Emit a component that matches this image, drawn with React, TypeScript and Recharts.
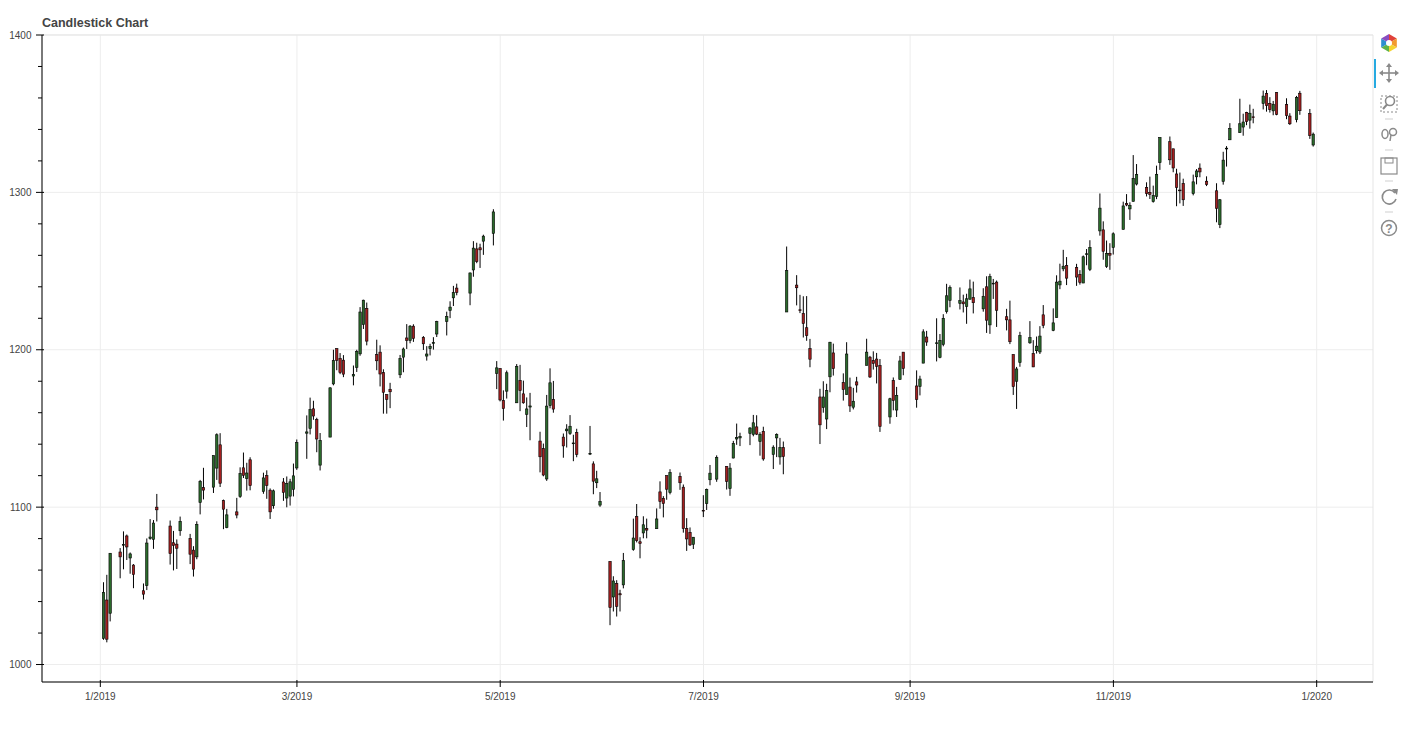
import React from 'react';
import { ComposedChart, Bar, XAxis, YAxis, CartesianGrid, ReferenceArea } from 'recharts';

// ---------- data ----------
const dates = [
  // Jan
  '2019-01-02','2019-01-03','2019-01-04','2019-01-07','2019-01-08','2019-01-09','2019-01-10','2019-01-11','2019-01-14','2019-01-15','2019-01-16','2019-01-17','2019-01-18','2019-01-22','2019-01-23','2019-01-24','2019-01-25','2019-01-28','2019-01-29','2019-01-30','2019-01-31',
  // Feb
  '2019-02-01','2019-02-04','2019-02-05','2019-02-06','2019-02-07','2019-02-08','2019-02-11','2019-02-12','2019-02-13','2019-02-14','2019-02-15','2019-02-19','2019-02-20','2019-02-21','2019-02-22','2019-02-25','2019-02-26','2019-02-27','2019-02-28',
  // Mar
  '2019-03-01','2019-03-04','2019-03-05','2019-03-06','2019-03-07','2019-03-08','2019-03-11','2019-03-12','2019-03-13','2019-03-14','2019-03-15','2019-03-18','2019-03-19','2019-03-20','2019-03-21','2019-03-22','2019-03-25','2019-03-26','2019-03-27','2019-03-28','2019-03-29',
  // Apr
  '2019-04-01','2019-04-02','2019-04-03','2019-04-04','2019-04-05','2019-04-08','2019-04-09','2019-04-10','2019-04-11','2019-04-12','2019-04-15','2019-04-16','2019-04-17','2019-04-18','2019-04-22','2019-04-23','2019-04-24','2019-04-25','2019-04-26','2019-04-29','2019-04-30',
  // May
  '2019-05-01','2019-05-02','2019-05-03','2019-05-06','2019-05-07','2019-05-08','2019-05-09','2019-05-10','2019-05-13','2019-05-14','2019-05-15','2019-05-16','2019-05-17','2019-05-20','2019-05-21','2019-05-22','2019-05-23','2019-05-24','2019-05-28','2019-05-29','2019-05-30','2019-05-31',
  // Jun
  '2019-06-03','2019-06-04','2019-06-05','2019-06-06','2019-06-07','2019-06-10','2019-06-11','2019-06-12','2019-06-13','2019-06-14','2019-06-17','2019-06-18','2019-06-19','2019-06-20','2019-06-21','2019-06-24','2019-06-25','2019-06-26','2019-06-27','2019-06-28',
  // Jul
  '2019-07-01','2019-07-02','2019-07-03','2019-07-05','2019-07-08','2019-07-09','2019-07-10','2019-07-11','2019-07-12','2019-07-15','2019-07-16','2019-07-17','2019-07-18','2019-07-19','2019-07-22','2019-07-23','2019-07-24','2019-07-25','2019-07-26','2019-07-29','2019-07-30','2019-07-31',
  // Aug
  '2019-08-01','2019-08-02','2019-08-05','2019-08-06','2019-08-07','2019-08-08','2019-08-09','2019-08-12','2019-08-13','2019-08-14','2019-08-15','2019-08-16','2019-08-19','2019-08-20','2019-08-21','2019-08-22','2019-08-23','2019-08-26','2019-08-27','2019-08-28','2019-08-29','2019-08-30',
  // Sep
  '2019-09-03','2019-09-04','2019-09-05','2019-09-06','2019-09-09','2019-09-10','2019-09-11','2019-09-12','2019-09-13','2019-09-16','2019-09-17','2019-09-18','2019-09-19','2019-09-20','2019-09-23','2019-09-24','2019-09-25','2019-09-26','2019-09-27','2019-09-30',
  // Oct
  '2019-10-01','2019-10-02','2019-10-03','2019-10-04','2019-10-07','2019-10-08','2019-10-09','2019-10-10','2019-10-11','2019-10-14','2019-10-15','2019-10-16','2019-10-17','2019-10-18','2019-10-21','2019-10-22','2019-10-23','2019-10-24','2019-10-25','2019-10-28','2019-10-29','2019-10-30','2019-10-31',
  // Nov
  '2019-11-01','2019-11-04','2019-11-05','2019-11-06','2019-11-07','2019-11-08','2019-11-11','2019-11-12','2019-11-13','2019-11-14','2019-11-15','2019-11-18','2019-11-19','2019-11-20','2019-11-21','2019-11-22','2019-11-25','2019-11-26','2019-11-27','2019-11-29',
  // Dec
  '2019-12-02','2019-12-03','2019-12-04','2019-12-05','2019-12-06','2019-12-09','2019-12-10','2019-12-11','2019-12-12','2019-12-13','2019-12-16','2019-12-17','2019-12-18','2019-12-19','2019-12-20','2019-12-23','2019-12-24','2019-12-26','2019-12-27','2019-12-30','2019-12-31',
];

const opens = [
  1016.6,1041.0,1032.6,1071.5,1076.1,1081.7,1067.7,1063.2,1046.9,1050.2,1080.0,1079.5,1100.0,1088.0,1077.4,1076.5,1085.0,1080.1,1072.7,1068.4,1103.0,
  1112.4,1112.7,1124.8,1139.6,1104.2,1087.0,1097.0,1106.8,1125.0,1118.1,1130.1,1110.0,1120.0,1110.8,1100.9,1116.0,1105.8,1107.0,1111.3,
  1124.9,1147.0,1150.1,1162.5,1155.7,1126.7,1144.5,1178.3,1200.7,1194.5,1193.4,1183.3,1188.8,1197.4,1216.0,1226.3,1196.9,1198.5,1185.5,1171.5,1174.9,
  1184.1,1195.3,1207.5,1205.9,1215.0,1207.9,1196.0,1200.7,1204.0,1210.0,1218.0,1225.0,1233.0,1239.2,1236.0,1250.7,1264.1,1264.8,1269.0,1274.0,1185.0,
  1188.1,1167.8,1173.7,1166.3,1180.5,1172.0,1159.0,1163.6,1142.0,1137.2,1117.9,1164.5,1168.5,1144.5,1148.5,1146.8,1140.5,1147.4,1134.0,1127.5,1115.5,1101.3,
  1065.5,1042.9,1051.5,1045.0,1050.6,1073.0,1094.0,1078.0,1083.6,1086.4,1086.3,1109.7,1105.6,1120.0,1109.2,1119.6,1112.7,1086.5,1084.0,1076.4,
  1098.0,1102.2,1117.4,1117.8,1125.9,1111.8,1131.2,1143.3,1144.0,1146.9,1146.2,1151.0,1141.7,1148.2,1133.5,1144.0,1131.9,1137.8,1224.0,1241.1,1225.4,1223.0,
  1214.0,1200.7,1170.0,1163.3,1156.0,1182.8,1198.0,1179.2,1171.5,1176.3,1163.5,1179.6,1190.1,1195.3,1193.2,1194.1,1190.0,1157.3,1180.5,1161.7,1181.1,1198.5,
  1177.0,1176.7,1191.5,1208.1,1204.0,1195.2,1203.4,1224.3,1231.4,1229.5,1230.4,1227.5,1232.1,1233.1,1226.0,1240.0,1215.8,1242.0,1243.0,1221.0,
  1219.0,1197.0,1180.0,1191.9,1204.4,1197.6,1199.4,1198.6,1222.2,1212.3,1220.4,1241.2,1251.4,1253.5,1252.3,1247.9,1242.4,1260.9,1251.0,1275.5,1276.2,1253.0,1261.3,
  1265.0,1276.5,1292.9,1289.5,1294.3,1305.3,1303.2,1300.0,1294.1,1297.5,1318.9,1332.2,1327.7,1311.7,1301.5,1305.6,1299.2,1309.9,1315.4,1307.1,
  1301.0,1279.6,1307.0,1328.0,1333.4,1338.0,1341.5,1350.8,1345.9,1348.0,1356.5,1362.9,1356.6,1351.8,1363.4,1355.9,1348.5,1346.2,1363.0,1350.0,1330.1,
];

const highs = [
  1052.3,1057.0,1070.8,1074.0,1084.6,1082.6,1071.2,1063.8,1051.5,1080.1,1092.4,1091.8,1108.4,1091.5,1084.9,1079.5,1094.0,1083.0,1075.2,1091.0,1117.3,
  1125.0,1132.8,1146.9,1147.0,1104.8,1098.9,1105.9,1125.3,1134.7,1128.2,1131.7,1121.9,1123.4,1111.9,1111.2,1118.5,1119.5,1118.0,1127.7,
  1143.0,1158.3,1169.6,1167.6,1156.8,1147.1,1176.2,1200.0,1200.9,1197.9,1196.6,1190.0,1200.0,1227.1,1231.8,1230.0,1206.4,1202.8,1187.6,1171.6,1179.0,
  1196.7,1201.4,1216.3,1215.7,1216.2,1208.7,1202.3,1203.8,1208.0,1218.4,1224.2,1230.8,1240.6,1242.0,1249.1,1269.0,1268.0,1267.4,1273.1,1289.3,1192.8,
  1188.1,1174.2,1186.8,1190.9,1190.4,1180.4,1169.7,1172.6,1147.9,1140.4,1171.3,1188.2,1180.2,1146.8,1152.7,1158.5,1146.0,1149.8,1151.6,1129.1,1123.1,1109.6,
  1065.5,1056.1,1053.6,1047.5,1070.9,1092.7,1102.0,1080.9,1094.2,1092.7,1099.2,1116.4,1107.0,1120.1,1124.1,1122.0,1114.4,1093.0,1087.1,1081.0,
  1107.6,1111.8,1126.8,1132.9,1126.0,1128.0,1142.1,1153.1,1147.3,1150.8,1158.6,1158.4,1147.6,1151.1,1139.3,1146.9,1144.0,1141.7,1265.6,1247.4,1234.9,1234.0,
  1234.1,1206.9,1175.2,1180.0,1178.4,1205.0,1203.9,1185.0,1204.8,1182.3,1175.8,1182.8,1207.0,1196.1,1199.0,1198.0,1194.1,1169.5,1182.4,1176.4,1196.1,1198.5,
  1186.9,1183.5,1213.0,1212.0,1220.0,1210.0,1222.6,1241.9,1240.9,1239.6,1235.0,1235.6,1244.6,1243.3,1239.1,1246.7,1248.3,1245.0,1244.0,1226.0,
  1231.2,1197.0,1189.1,1211.4,1218.2,1206.1,1208.4,1215.0,1228.4,1226.3,1247.3,1254.7,1263.5,1258.9,1254.6,1250.6,1259.9,1264.0,1269.6,1299.3,1281.6,1269.4,1267.7,
  1274.6,1294.1,1298.9,1293.7,1323.7,1318.0,1306.4,1310.0,1304.3,1317.0,1334.9,1335.5,1327.7,1315.0,1312.6,1308.7,1311.3,1314.8,1318.4,1310.2,
  1305.8,1295.8,1325.8,1329.4,1344.0,1359.5,1350.0,1351.2,1355.8,1353.1,1364.7,1365.0,1360.5,1358.1,1363.6,1359.8,1350.3,1361.3,1364.5,1353.0,1338.0,
];

const lows = [
  1015.7,1014.1,1027.4,1054.8,1060.5,1066.4,1057.7,1048.5,1041.3,1047.3,1079.3,1073.5,1090.9,1063.5,1059.8,1060.7,1081.8,1063.8,1055.9,1066.9,1095.4,
  1104.9,1109.0,1117.3,1112.8,1086.0,1086.6,1092.9,1105.9,1118.5,1110.5,1110.7,1108.5,1105.3,1092.5,1099.0,1104.0,1099.9,1101.0,1106.8,
  1123.7,1130.7,1146.2,1155.5,1134.9,1123.3,1144.5,1177.4,1187.0,1184.5,1182.6,1177.4,1185.9,1196.2,1213.2,1202.8,1187.0,1176.7,1159.4,1159.4,1162.9,
  1182.0,1185.7,1200.5,1204.1,1205.0,1199.9,1193.1,1196.4,1200.1,1208.1,1209.1,1220.1,1227.8,1234.6,1228.3,1246.4,1255.0,1252.0,1260.3,1266.3,1175.0,
  1167.2,1155.0,1169.0,1166.3,1161.0,1165.7,1150.9,1142.5,1122.1,1119.6,1116.7,1162.8,1160.0,1131.4,1137.9,1145.9,1129.2,1131.7,1133.1,1108.2,1112.1,1100.2,
  1025.0,1033.7,1030.5,1033.7,1048.4,1072.3,1077.6,1067.5,1080.2,1080.2,1086.3,1099.0,1093.5,1104.7,1108.1,1111.0,1083.8,1072.2,1075.3,1073.4,
  1093.7,1098.2,1113.9,1116.1,1111.2,1107.2,1131.0,1139.6,1138.8,1139.4,1145.0,1145.8,1132.7,1129.5,1124.2,1131.8,1127.0,1120.9,1224.0,1228.2,1223.3,1207.8,
  1205.7,1188.9,1140.1,1160.0,1149.6,1173.0,1183.6,1167.7,1171.5,1160.5,1162.1,1172.8,1190.1,1182.1,1187.4,1178.6,1147.8,1153.0,1161.5,1157.3,1181.1,1183.8,
  1163.2,1171.0,1191.5,1202.5,1192.6,1194.6,1202.2,1223.0,1227.0,1225.6,1223.7,1216.5,1232.0,1223.1,1224.2,1210.7,1210.1,1232.3,1214.5,1212.3,
  1203.6,1171.3,1162.4,1189.2,1203.8,1189.0,1197.6,1197.3,1213.7,1211.8,1220.4,1238.5,1249.9,1241.1,1240.6,1241.4,1242.4,1253.7,1250.0,1272.5,1257.2,1252.0,1250.8,
  1260.5,1276.4,1291.2,1282.5,1294.2,1304.4,1297.4,1295.8,1293.5,1295.7,1314.3,1317.5,1312.8,1291.2,1293.0,1291.4,1298.1,1305.1,1309.6,1304.0,
  1281.0,1277.3,1304.9,1316.4,1333.4,1337.8,1336.0,1342.7,1340.5,1343.9,1352.7,1351.3,1350.7,1349.0,1349.0,1346.5,1342.8,1344.5,1349.3,1334.0,1329.1,
];

const closes = [
  1045.9,1016.1,1070.7,1068.4,1076.3,1074.7,1070.3,1057.2,1044.7,1077.2,1081.0,1089.9,1098.3,1070.5,1075.6,1073.9,1091.0,1070.1,1060.6,1089.1,1116.4,
  1110.8,1132.8,1146.0,1115.2,1098.7,1095.1,1095.0,1121.4,1120.2,1121.7,1113.7,1118.6,1113.8,1097.0,1110.4,1109.4,1115.1,1116.1,1119.9,
  1141.0,1147.8,1162.0,1157.9,1143.3,1142.3,1175.8,1193.2,1193.3,1185.6,1184.5,1184.3,1198.9,1224.0,1231.5,1205.5,1193.0,1184.6,1173.0,1168.5,1173.3,
  1194.4,1200.5,1205.9,1215.0,1207.2,1203.8,1197.3,1202.2,1204.6,1217.9,1221.1,1227.1,1236.3,1236.4,1248.8,1264.6,1256.0,1263.5,1272.2,1287.6,1188.5,
  1168.1,1162.6,1185.4,1189.4,1174.1,1166.3,1162.4,1164.3,1132.0,1120.4,1164.2,1179.0,1162.3,1138.9,1149.6,1151.4,1140.8,1133.5,1134.2,1116.5,1118.0,1103.6,
  1036.2,1053.1,1037.0,1044.3,1066.0,1080.4,1078.7,1077.0,1088.8,1085.4,1092.5,1103.6,1102.3,1111.4,1121.9,1115.5,1086.4,1079.8,1076.0,1080.9,
  1097.9,1111.3,1121.6,1131.6,1116.4,1124.8,1140.5,1144.2,1144.9,1150.3,1153.6,1146.4,1146.3,1130.6,1138.1,1146.2,1137.8,1132.1,1250.4,1239.4,1225.1,1216.7,
  1209.0,1194.0,1152.3,1170.0,1174.0,1204.8,1188.0,1174.7,1197.3,1164.3,1167.3,1177.6,1198.5,1182.7,1191.3,1189.5,1151.3,1168.9,1167.8,1171.0,1192.9,1188.1,
  1168.4,1181.4,1211.4,1204.9,1204.4,1206.0,1220.0,1234.3,1239.6,1231.3,1229.2,1232.4,1238.7,1229.9,1234.0,1218.8,1246.5,1242.3,1225.1,1219.0,
  1205.1,1176.6,1187.8,1209.0,1207.7,1189.1,1202.3,1208.7,1215.5,1217.1,1243.0,1243.6,1253.1,1245.5,1246.2,1242.8,1259.1,1261.0,1265.1,1290.0,1262.6,1261.3,1260.1,
  1273.7,1291.4,1292.0,1291.8,1308.9,1311.4,1299.2,1298.8,1298.0,1311.5,1334.9,1320.7,1315.5,1303.1,1301.4,1295.3,1306.7,1313.6,1313.0,1305.0,
  1289.9,1295.3,1320.5,1328.1,1340.6,1343.6,1344.7,1345.0,1350.3,1347.8,1361.2,1355.1,1352.6,1356.0,1349.6,1348.8,1343.6,1360.4,1351.9,1336.1,1337.0,
];

const xTickDates = ['2019-01-01','2019-03-01','2019-05-01','2019-07-01','2019-09-01','2019-11-01','2020-01-01'];
const xTickLabels = ['1/2019','3/2019','5/2019','7/2019','9/2019','11/2019','1/2020'];
const yMajorTicks = [1000, 1100, 1200, 1300, 1400];
const yAllTicks = [1000,1020,1040,1060,1080,1100,1120,1140,1160,1180,1200,1220,1240,1260,1280,1300,1320,1340,1360,1380,1400];

// ---------- helpers ----------
const DAY = 86400000;
const toDay = (s: string) => Date.parse(s + 'T00:00:00Z') / DAY;

const n = Math.min(dates.length, opens.length, highs.length, lows.length, closes.length);
const data = dates.slice(0, n).map((d, i) => ({
  t: toDay(d),
  open: opens[i],
  high: highs[i],
  low: lows[i],
  close: closes[i],
  range: [lows[i], highs[i]],
}));

const xTicks = xTickDates.map(toDay);
const labelByTick: Record<number, string> = {};
xTicks.forEach((t, i) => { labelByTick[t] = xTickLabels[i]; });

const X_MIN = toDay('2019-01-02') - 18.5;
const X_MAX = toDay('2019-12-31') + 17.9;
const Y_MIN = 988.9;
const Y_MAX = 1400;

const GREEN = '#2b6b2b';
const RED = '#a51f1f';
const FONT = '"Liberation Sans", Arial, Helvetica, sans-serif';
const TICK_COLOR = '#444444';

const Candle = (props: any) => {
  const { x, y, width, height, payload } = props;
  if (!payload || x == null || y == null) return null;
  const top = height < 0 ? y + height : y;
  const h = Math.abs(height);
  const { open, close, high, low } = payload;
  const cx = x + width / 2;
  const ratio = high === low ? 0 : h / (high - low);
  const bTop = top + (high - Math.max(open, close)) * ratio;
  const bBot = top + (high - Math.min(open, close)) * ratio;
  const bh = Math.max(bBot - bTop, 0.8);
  const bw = 2.4;
  const up = close >= open;
  return (
    <g>
      <line x1={cx} x2={cx} y1={top} y2={top + h} stroke="#000" strokeWidth={1} />
      <rect x={cx - bw / 2} y={bTop} width={bw} height={bh} fill={up ? GREEN : RED} stroke="#000" strokeWidth={0.6} />
    </g>
  );
};

const XTick = (props: any) => {
  const { x, y, payload } = props;
  const label = labelByTick[payload.value] ?? '';
  return (
    <g>
      <line x1={x} x2={x} y1={y - 2} y2={y + 5} stroke="#000" strokeWidth={1} />
      <text x={x} y={y + 17.5} textAnchor="middle" fontSize={10} fontFamily={FONT} fill={TICK_COLOR}>{label}</text>
    </g>
  );
};

const YTick = (props: any) => {
  const { x, y, payload } = props;
  const v = payload.value;
  const major = yMajorTicks.includes(v);
  return (
    <g>
      {major ? (
        <line x1={x - 6} x2={x + 2} y1={y} y2={y} stroke="#000" strokeWidth={1} />
      ) : (
        <line x1={x - 4} x2={x} y1={y} y2={y} stroke="#000" strokeWidth={1} />
      )}
      {major && (
        <text x={x - 10.5} y={y + 3.5} textAnchor="end" fontSize={10} fontFamily={FONT} fill={TICK_COLOR}>{v}</text>
      )}
    </g>
  );
};

const Toolbar = () => {
  const cx = 1389;
  const grey = '#8a8a8a';
  const logoColors = ['#e0413a', '#f29a2e', '#f5d430', '#5fb34a', '#2e8fd0', '#8a4cbf'];
  const lr = 9;
  const wedges = logoColors.map((c, i) => {
    const a0 = (Math.PI / 3) * i - Math.PI / 2;
    const a1 = a0 + Math.PI / 3;
    const p0 = `${cx + lr * Math.cos(a0)},${43 + lr * Math.sin(a0)}`;
    const p1 = `${cx + lr * Math.cos(a1)},${43 + lr * Math.sin(a1)}`;
    return <polygon key={i} points={`${cx},43 ${p0} ${p1}`} fill={c} />;
  });
  return (
    <g>
      {wedges}
      <circle cx={cx} cy={43} r={3} fill="#fff" />
      <line x1={1375} x2={1375} y1={59} y2={88} stroke="#26aae1" strokeWidth={2} />
      {/* pan */}
      <g stroke={grey} strokeWidth={1.6} fill="none">
        <line x1={cx - 8} x2={cx + 8} y1={73} y2={73} />
        <line x1={cx} x2={cx} y1={65} y2={81} />
      </g>
      <g fill={grey}>
        <polygon points={`${cx - 10},73 ${cx - 6},70 ${cx - 6},76`} />
        <polygon points={`${cx + 10},73 ${cx + 6},70 ${cx + 6},76`} />
        <polygon points={`${cx},63 ${cx - 3},67 ${cx + 3},67`} />
        <polygon points={`${cx},83 ${cx - 3},79 ${cx + 3},79`} />
      </g>
      {/* box zoom */}
      <rect x={cx - 8} y={96} width={16} height={16} fill="none" stroke={grey} strokeDasharray="2 2" strokeWidth={1} />
      <circle cx={cx + 1} cy={101} r={4.5} fill="none" stroke={grey} strokeWidth={1.6} />
      <line x1={cx - 2} x2={cx - 6} y1={104.5} y2={109} stroke={grey} strokeWidth={2} />
      <line x1={cx - 4} x2={cx + 4} y1={119} y2={119} stroke="#cfcfcf" strokeWidth={1} />
      {/* wheel zoom */}
      <ellipse cx={cx - 4} cy={134} rx={3} ry={4.5} fill="none" stroke={grey} strokeWidth={1.5} />
      <circle cx={cx + 4} cy={132} r={3.5} fill="none" stroke={grey} strokeWidth={1.5} />
      <line x1={cx + 2} x2={cx + 1} y1={135} y2={141} stroke={grey} strokeWidth={1.5} />
      <line x1={cx - 4} x2={cx + 4} y1={150} y2={150} stroke="#cfcfcf" strokeWidth={1} />
      {/* save */}
      <rect x={cx - 8} y={158} width={16} height={16} fill="none" stroke={grey} strokeWidth={1.2} />
      <rect x={cx - 4} y={158} width={8} height={5} fill="none" stroke={grey} strokeWidth={1} />
      <line x1={cx - 4} x2={cx + 4} y1={181} y2={181} stroke="#cfcfcf" strokeWidth={1} />
      {/* reset */}
      <path d={`M ${cx + 6} ${193} A 7 7 0 1 0 ${cx + 7} ${199}`} fill="none" stroke={grey} strokeWidth={1.6} />
      <polygon points={`${cx + 3},${189} ${cx + 9},${189} ${cx + 8},${195}`} fill={grey} />
      <line x1={cx - 4} x2={cx + 4} y1={212} y2={212} stroke="#cfcfcf" strokeWidth={1} />
      {/* help */}
      <circle cx={cx} cy={228} r={7.5} fill="none" stroke={grey} strokeWidth={1.5} />
      <text x={cx} y={232.5} textAnchor="middle" fontSize={12} fontWeight="bold" fontFamily={FONT} fill={grey}>?</text>
    </g>
  );
};

export default function App() {
  return (
    <div style={{ position: 'absolute', left: 0, top: 0, width: 1407, height: 735, background: '#fff' }}>
      <ComposedChart
        width={1407}
        height={735}
        data={data}
        margin={{ top: 35, right: 34, left: 0, bottom: 0 }}
        barSize={3}
      >
        <CartesianGrid
          horizontalValues={yMajorTicks}
          verticalValues={xTicks}
          stroke="#ededed"
          strokeWidth={1}
        />
        <ReferenceArea x1={X_MIN} x2={X_MAX} y1={Y_MIN} y2={Y_MAX} fill="none" stroke="#e5e5e5" strokeWidth={1} ifOverflow="visible" />
        <XAxis
          type="number"
          dataKey="t"
          domain={[X_MIN, X_MAX]}
          allowDataOverflow
          ticks={xTicks}
          interval={0}
          tickSize={0}
          tickMargin={0}
          tickLine={false}
          axisLine={{ stroke: '#000', strokeWidth: 1 }}
          tick={<XTick />}
          height={53}
        />
        <YAxis
          type="number"
          domain={[Y_MIN, Y_MAX]}
          allowDataOverflow
          ticks={yAllTicks}
          interval={0}
          tickSize={0}
          tickMargin={0}
          tickLine={false}
          axisLine={{ stroke: '#000', strokeWidth: 1 }}
          tick={<YTick />}
          width={42}
        />
        <Bar dataKey="range" isAnimationActive={false} shape={<Candle />} />
      </ComposedChart>
      <svg width={1407} height={735} style={{ position: 'absolute', left: 0, top: 0, pointerEvents: 'none' }}>
        <text x={42} y={26.5} fontSize={12.5} fontWeight="bold" fontFamily={FONT} fill="#444444">Candlestick Chart</text>
        <Toolbar />
      </svg>
    </div>
  );
}
